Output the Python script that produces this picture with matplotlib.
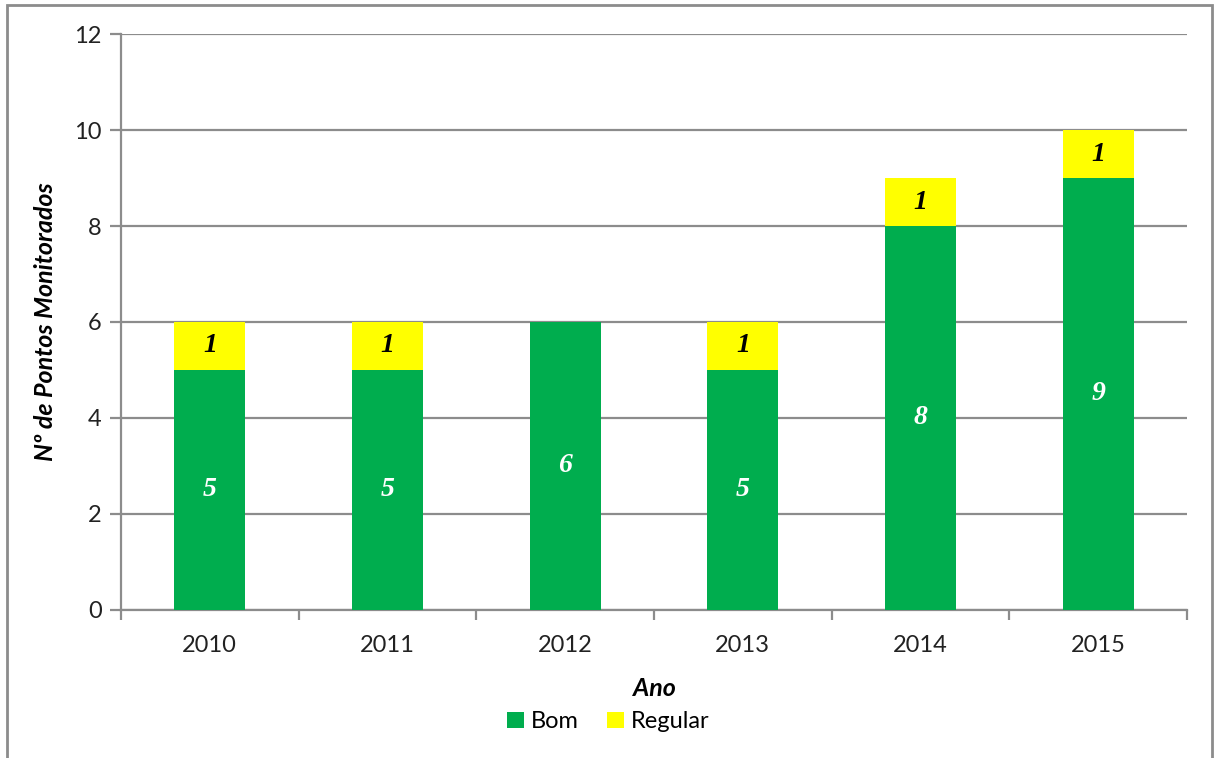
import matplotlib
matplotlib.use("Agg")
import matplotlib.pyplot as plt
import numpy as np
from matplotlib.patches import Rectangle

# chart data
anos = ["2010", "2011", "2012", "2013", "2014", "2015"]
bom = [5, 5, 6, 5, 8, 9]
regular = [1, 1, 0, 1, 1, 1]

verde = "#00AD4E"
amarelo = "#FFFF00"
cinza = "#8C8C8C"

plt.rcParams["font.family"] = ["Lato", "DejaVu Sans"]

fig = plt.figure(figsize=(12.17, 7.58), dpi=100)
ax = fig.add_axes([0.0994, 0.1953, 0.8759, 0.7598])

x = np.arange(len(anos))
w = 0.4
b1 = ax.bar(x, bom, w, color=verde, label="Bom", zorder=3)
b2 = ax.bar(x, regular, w, bottom=bom, color=amarelo, label="Regular", zorder=3)

for xi, v in zip(x, bom):
    if v > 0:
        ax.text(xi, v / 2, str(v), ha="center", va="center", color="white",
                fontsize=20, fontstyle="italic", fontweight="bold",
                family="Liberation Serif", zorder=4)
for xi, v, b in zip(x, regular, bom):
    if v > 0:
        ax.text(xi, b + v / 2, str(v), ha="center", va="center", color="black",
                fontsize=20, fontstyle="italic", fontweight="bold",
                family="Liberation Serif", zorder=4)

ax.set_xlim(-0.5, len(anos) - 0.5)
ax.set_ylim(0, 12)
ax.set_yticks(range(0, 13, 2))
ax.yaxis.grid(True, color=cinza, linewidth=1.6, zorder=0)
ax.set_axisbelow(True)

ax.set_xticks(x)
ax.set_xticklabels(anos, fontsize=17, color="#222222")
ax.set_xticks(np.arange(-0.5, len(anos)), minor=True)
ax.tick_params(axis="x", which="major", length=0, pad=18)
ax.tick_params(axis="x", which="minor", length=7, width=1.6, color=cinza, direction="out")
ax.tick_params(axis="y", length=8, width=1.6, color=cinza, labelsize=17,
               labelcolor="#222222", pad=6)

for s in ["top", "right"]:
    ax.spines[s].set_visible(False)
ax.spines["left"].set_color(cinza)
ax.spines["left"].set_linewidth(1.6)
ax.spines["bottom"].set_color(cinza)
ax.spines["bottom"].set_linewidth(1.6)

ax.set_ylabel("Nº de Pontos Monitorados", fontsize=18, fontstyle="italic",
              fontweight="bold", labelpad=12)
ax.set_xlabel("Ano", fontsize=18, fontstyle="italic", fontweight="bold", labelpad=15)

fig.legend(handles=[b1, b2], labels=["Bom", "Regular"], loc="center",
           bbox_to_anchor=(0.5, 0.048), ncol=2, frameon=False, fontsize=17,
           handlelength=0.7, handleheight=0.7, handletextpad=0.3, columnspacing=1.2)

fig.patches.append(Rectangle((0.006, -0.01), 0.99, 1.003, transform=fig.transFigure,
                             fill=False, edgecolor=cinza, linewidth=2))

fig.savefig("out.png", dpi=100)
